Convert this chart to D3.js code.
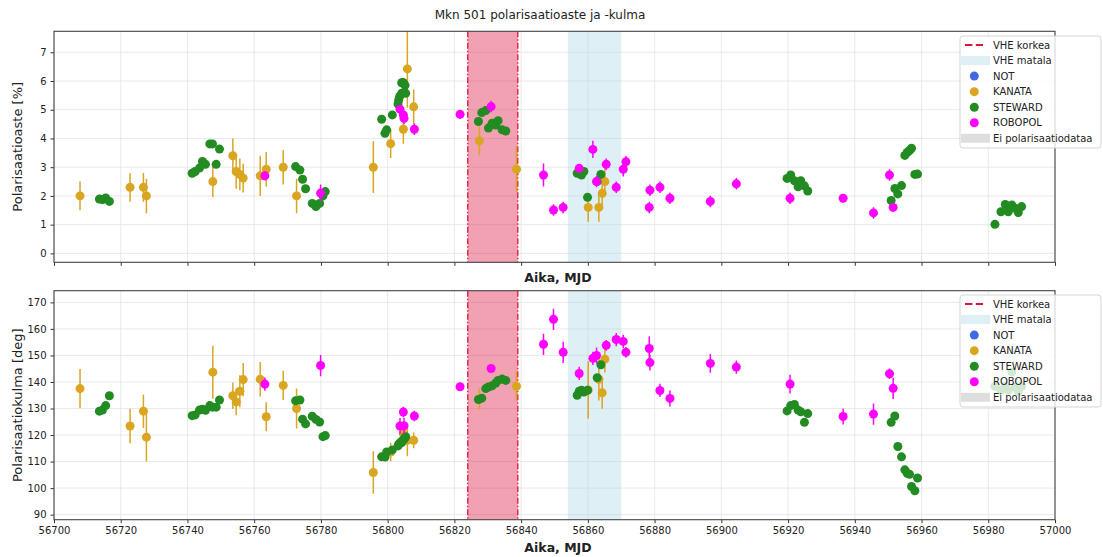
<!DOCTYPE html>
<html>
<head>
<meta charset="utf-8">
<script src="https://cdn.jsdelivr.net/npm/d3@7"></script>
<style>
  body { margin: 0; background: #fff; }
  svg text { font-family: "DejaVu Sans", sans-serif; fill: #222; }
</style>
</head>
<body>
<div id="chart"></div>
<script>
// --- data ---
const kanataMjd    = [56707.8, 56722.8, 56726.8, 56727.7, 56747.6, 56753.6, 56754.6, 56755.7, 56756.7, 56761.8, 56763.6, 56768.7, 56772.7, 56795.7, 56800.9, 56804.7, 56805.9, 56807.8, 56827.5, 56838.6, 56860.1, 56863.3, 56864.3, 56865.1];
const kanataPol    = [2.0, 2.3, 2.3, 2.0, 2.5, 3.4, 2.85, 2.75, 2.62, 2.7, 2.93, 3.0, 2.0, 3.0, 3.82, 4.32, 6.42, 5.1, 3.92, 2.93, 1.6, 1.6, 2.09, 2.5];
const kanataPolErr = [0.5, 0.5, 0.5, 0.6, 0.55, 0.6, 0.6, 0.55, 0.5, 0.7, 0.6, 0.6, 0.6, 0.9, 0.5, 0.5, 1.35, 0.6, 0.5, 0.8, 0.5, 0.5, 0.5, 0.5];
const kanataAng    = [137.5, 123.4, 129.0, 119.2, 143.7, 134.8, 132.5, 136.5, 140.9, 141.0, 126.9, 138.7, 130.0, 105.9, 113.6, 120.5, 118.0, 118.0, 133.5, 138.4, 137.0, 141.0, 135.9, 148.6];
const kanataAngErr = [7.4, 6.5, 6.3, 9.2, 10, 5, 5, 6, 6.3, 6.5, 5.5, 5.5, 7.5, 8, 3.5, 4, 6, 3, 4, 5.5, 10.8, 8, 6, 5];

const stewardMjd = [56713.6, 56714.5, 56715.5, 56716.6,
  56741.4, 56742.3, 56743.6, 56744.5, 56745.4, 56746.7, 56747.5, 56748.6, 56749.6,
  56772.4, 56773.7, 56774.5, 56775.4, 56777.4, 56778.5, 56779.6, 56780.6, 56781.3,
  56798.2, 56799.2, 56799.7, 56801.4, 56803.1, 56803.3, 56803.6, 56804.2, 56804.2, 56804.6, 56804.9, 56805.2, 56805.4,
  56827.2, 56828.2, 56829.4, 56830.2, 56831.3, 56832.4, 56833.1, 56834.3, 56835.4,
  56856.8, 56857.4, 56858.1, 56858.8, 56859.9, 56862.8, 56863.9,
  56919.7, 56920.8, 56921.9, 56923.0, 56923.8, 56924.9, 56925.9,
  56950.9, 56952.0, 56952.9, 56954.0, 56955.0, 56955.7, 56956.4, 56957.0, 56958.0, 56958.8,
  56982.0, 56983.8, 56985.1, 56986.0, 56987.1, 56988.1, 56989.0, 56990.0];
const stewardPol = [1.89, 1.87, 1.93, 1.81,
  2.79, 2.85, 2.97, 3.2, 3.1, 3.81, 3.81, 3.1, 3.63,
  3.02, 2.9, 2.58, 2.25, 1.74, 1.63, 1.74, 2.0, 2.15,
  4.67, 4.18, 4.3, 4.82, 5.2, 5.34, 5.46, 5.57, 5.94, 5.95, 5.9, 5.85, 5.57,
  4.59, 4.9, 4.97, 4.36, 4.53, 4.47, 4.62, 4.3, 4.26,
  2.79, 2.82, 2.73, 2.85, 1.95, 2.5, 2.75,
  2.61, 2.73, 2.53, 2.32, 2.53, 2.35, 2.17,
  1.84, 2.26, 2.07, 2.36, 3.41, 3.51, 3.58, 3.66, 2.75, 2.76,
  1.01, 1.45, 1.7, 1.45, 1.68, 1.57, 1.42, 1.63];
const stewardAng = [129.0, 129.4, 131.1, 134.8,
  127.3, 127.6, 129.4, 129.7, 129.3, 131.1, 130.5, 130.5, 133.2,
  132.9, 133.2, 126.0, 124.2, 127.1, 125.9, 124.9, 119.4, 119.8,
  111.8, 111.7, 113.6, 114.4, 115.9, 116.5, 116.9, 117.6, 117.2, 118.0, 118.4, 119.0, 119.4,
  133.4, 133.9, 137.5, 138.1, 138.6, 139.6, 140.6, 141.1, 140.6,
  135.0, 136.5, 136.9, 136.2, 136.9, 141.6, 146.5,
  129.1, 131.1, 131.5, 129.4, 128.8, 124.8, 128.1,
  124.8, 127.2, 115.7, 111.8, 106.9, 105.6, 105.2, 100.6, 99.0, 103.8,
  138.4, 136.9, 138.4, 136.9, 143.8, 138.0, 136.5, 138.4];

const robopolMjd    = [56763.2, 56779.9, 56803.7, 56804.7, 56804.9, 56808.0, 56821.7, 56831.0, 56846.7, 56849.7, 56852.6, 56857.4, 56861.5, 56862.6, 56865.5, 56868.5, 56870.6, 56871.4, 56878.4, 56878.6, 56881.6, 56884.6, 56896.7, 56904.5, 56920.6, 56936.5, 56945.6, 56950.4, 56951.5];
const robopolPol    = [2.7, 2.1, 5.02, 4.82, 4.7, 4.32, 4.84, 5.11, 2.73, 1.51, 1.6, 2.96, 3.62, 2.5, 3.1, 2.3, 2.93, 3.19, 1.6, 2.2, 2.3, 1.92, 1.81, 2.42, 1.92, 1.92, 1.41, 2.73, 1.6];
const robopolPolErr = [0.15, 0.3, 0.15, 0.15, 0.2, 0.2, 0.15, 0.2, 0.4, 0.2, 0.2, 0.1, 0.3, 0.2, 0.2, 0.2, 0.25, 0.2, 0.2, 0.2, 0.2, 0.2, 0.2, 0.2, 0.2, 0.15, 0.2, 0.2, 0.15];
const robopolAng    = [139.2, 146.2, 123.4, 128.7, 123.5, 127.2, 138.2, 145.1, 154.2, 163.6, 151.2, 143.2, 148.9, 150.0, 153.8, 156.0, 155.3, 151.2, 152.6, 147.3, 136.8, 133.8, 147.0, 145.6, 139.2, 127.0, 127.9, 143.1, 137.6];
const robopolAngErr = [2.5, 4, 3, 2, 3, 2, 1.5, 1.5, 4, 4, 4, 2.5, 2.5, 3, 2, 2.5, 2.5, 2, 4.5, 3, 2.5, 3, 3.5, 2.5, 3.5, 3, 4, 2, 4];

const notMjd = [], notPol = [], notAng = [];

const vheHigh = [56824, 56839];
const vheLow  = [56854, 56870];

const xTicks   = [56700, 56720, 56740, 56760, 56780, 56800, 56820, 56840, 56860, 56880, 56900, 56920, 56940, 56960, 56980, 57000];
const polTicks = [0, 1, 2, 3, 4, 5, 6, 7];
const angTicks = [90, 100, 110, 120, 130, 140, 150, 160, 170];

const legendLabels = ['VHE korkea', 'VHE matala', 'NOT', 'KANATA', 'STEWARD', 'ROBOPOL', 'Ei polarisaatiodataa'];

// --- drawing ---
const width = 1103, height = 557;
const colors = { NOT: '#4169e1', KANATA: '#daa520', STEWARD: '#228b22', ROBOPOL: '#ff00ff' };

const svg = d3.select('#chart').append('svg').attr('width', width).attr('height', height);

const x = d3.scaleLinear().domain([56700, 57000]).range([54, 1055]);

svg.append('text').attr('x', 540).attr('y', 15).attr('text-anchor', 'middle')
  .attr('dominant-baseline', 'central').style('font-size', '12px')
  .text('Mkn 501 polarisaatioaste ja -kulma');

const zip = (m, v, e) => m.map((d, i) => ({ x: d, y: v[i], e: e ? e[i] : 0 }));

const panels = [
  { top: 31.3, bottom: 262.3, domain: [-0.31, 7.73], ticks: polTicks, label: 'Polarisaatioaste [%]', showX: false, xlabY: 277, legTop: 36,
    series: [
      { name: 'NOT', pts: zip(notMjd, notPol) },
      { name: 'KANATA', pts: zip(kanataMjd, kanataPol, kanataPolErr) },
      { name: 'STEWARD', pts: zip(stewardMjd, stewardPol) },
      { name: 'ROBOPOL', pts: zip(robopolMjd, robopolPol, robopolPolErr) }
    ] },
  { top: 290.7, bottom: 519.7, domain: [88.1, 174.4], ticks: angTicks, label: 'Polarisaatiokulma [deg]', showX: true, xlabY: 547, legTop: 295,
    series: [
      { name: 'NOT', pts: zip(notMjd, notAng) },
      { name: 'KANATA', pts: zip(kanataMjd, kanataAng, kanataAngErr) },
      { name: 'STEWARD', pts: zip(stewardMjd, stewardAng) },
      { name: 'ROBOPOL', pts: zip(robopolMjd, robopolAng, robopolAngErr) }
    ] }
];

panels.forEach((p, pi) => {
  const y = d3.scaleLinear().domain(p.domain).range([p.bottom, p.top]);
  const [x0, x1] = x.range();
  const g = svg.append('g');

  const clipId = 'clip' + pi;
  svg.append('clipPath').attr('id', clipId).append('rect')
    .attr('x', x0).attr('y', p.top).attr('width', x1 - x0).attr('height', p.bottom - p.top);

  // grid
  g.append('g').selectAll('line').data(xTicks).join('line')
    .attr('x1', d => x(d)).attr('x2', d => x(d)).attr('y1', p.top).attr('y2', p.bottom)
    .attr('stroke', '#e3e3e3').attr('stroke-width', 0.8);
  g.append('g').selectAll('line').data(p.ticks).join('line')
    .attr('x1', x0).attr('x2', x1).attr('y1', d => y(d)).attr('y2', d => y(d))
    .attr('stroke', '#e3e3e3').attr('stroke-width', 0.8);

  // VHE bands
  g.append('rect').attr('x', x(vheHigh[0])).attr('width', x(vheHigh[1]) - x(vheHigh[0]))
    .attr('y', p.top).attr('height', p.bottom - p.top).attr('fill', '#dc143c').attr('fill-opacity', 0.4);
  g.append('rect').attr('x', x(vheLow[0])).attr('width', x(vheLow[1]) - x(vheLow[0]))
    .attr('y', p.top).attr('height', p.bottom - p.top).attr('fill', '#add8e6').attr('fill-opacity', 0.4);
  g.append('g').selectAll('line').data(vheHigh).join('line')
    .attr('x1', d => x(d)).attr('x2', d => x(d)).attr('y1', p.top).attr('y2', p.bottom)
    .attr('stroke', '#dc143c').attr('stroke-width', 1.3).attr('stroke-dasharray', '6,2,1.5,2');

  // data
  const dg = g.append('g').attr('clip-path', `url(#${clipId})`);
  p.series.forEach(s => {
    const c = colors[s.name];
    dg.append('g').selectAll('line').data(s.pts.filter(d => d.e > 0)).join('line')
      .attr('x1', d => x(d.x)).attr('x2', d => x(d.x))
      .attr('y1', d => y(d.y - d.e)).attr('y2', d => y(d.y + d.e))
      .attr('stroke', c).attr('stroke-width', 1.5);
    dg.append('g').selectAll('circle').data(s.pts).join('circle')
      .attr('cx', d => x(d.x)).attr('cy', d => y(d.y)).attr('r', 4.5).attr('fill', c);
  });

  // axes
  const ax = g.append('g').attr('transform', `translate(0,${p.bottom})`)
    .call(d3.axisBottom(x).tickValues(xTicks).tickFormat(p.showX ? d3.format('d') : '').tickSize(3.5).tickPadding(4));
  const ay = g.append('g').attr('transform', `translate(${x0},0)`)
    .call(d3.axisLeft(y).tickValues(p.ticks).tickSize(3.5).tickPadding(4));
  [ax, ay].forEach(a => {
    a.select('.domain').remove();
    a.selectAll('line').attr('stroke', '#333');
    a.selectAll('text').style('font-size', '10px').attr('fill', '#222');
  });
  g.append('rect').attr('x', x0).attr('y', p.top).attr('width', x1 - x0).attr('height', p.bottom - p.top)
    .attr('fill', 'none').attr('stroke', '#444').attr('stroke-width', 1.1);

  // labels
  svg.append('text').attr('transform', `translate(17,${(p.top + p.bottom) / 2}) rotate(-90)`)
    .attr('text-anchor', 'middle').attr('dominant-baseline', 'central').style('font-size', '13px').text(p.label);
  svg.append('text').attr('x', 558).attr('y', p.xlabY).attr('text-anchor', 'middle')
    .attr('dominant-baseline', 'central').style('font-size', '12.5px').style('font-weight', 'bold').text('Aika, MJD');

  // legend
  const lg = svg.append('g').attr('transform', `translate(960,${p.legTop})`);
  lg.append('rect').attr('width', 141).attr('height', 112).attr('rx', 3)
    .attr('fill', '#fff').attr('fill-opacity', 0.8).attr('stroke', '#d5d5d5');
  legendLabels.forEach((lab, i) => {
    const yy = 9 + i * 15.55;
    const row = lg.append('g').attr('transform', `translate(0,${yy})`);
    if (i === 0) {
      row.append('line').attr('x1', 5).attr('x2', 23).attr('stroke', '#dc143c')
        .attr('stroke-width', 2).attr('stroke-dasharray', '7.4,3.4');
    } else if (i === 1 || i === 6) {
      row.append('rect').attr('x', 1).attr('y', -4.5).attr('width', 29).attr('height', 9)
        .attr('fill', i === 1 ? '#add8e6' : '#d3d3d3').attr('fill-opacity', i === 1 ? 0.4 : 0.75);
    } else {
      row.append('circle').attr('cx', 14.3).attr('r', 4.5).attr('fill', colors[lab]);
    }
    row.append('text').attr('x', 33).attr('dominant-baseline', 'central').style('font-size', '10px').text(lab);
  });
});
</script>
</body>
</html>
